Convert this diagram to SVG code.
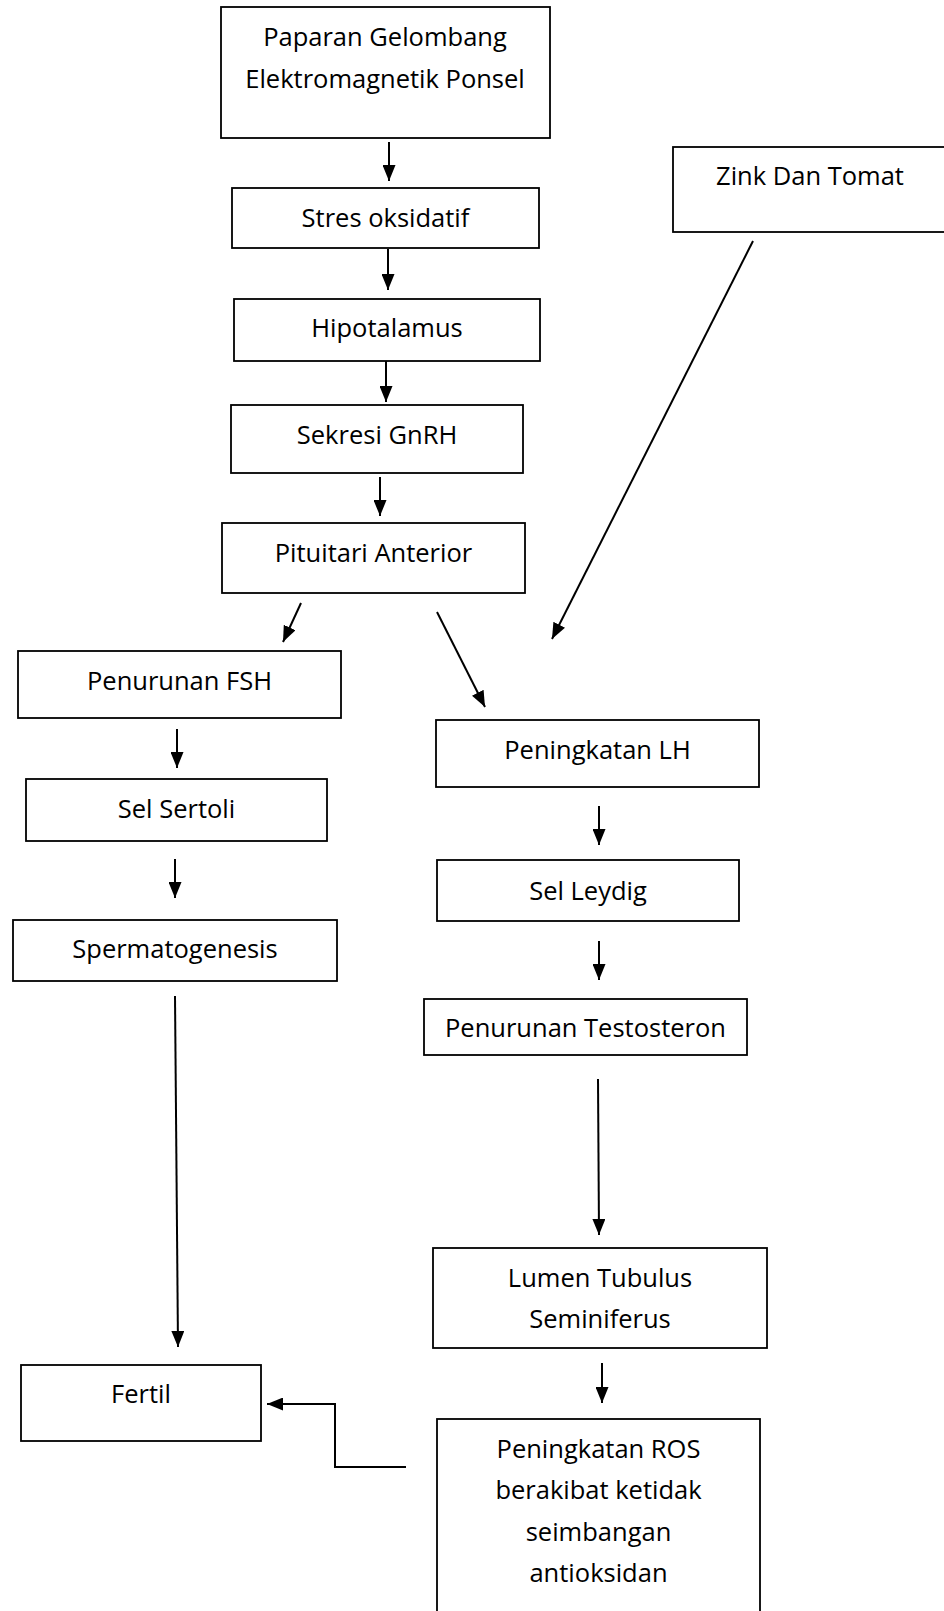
<svg xmlns="http://www.w3.org/2000/svg" width="944" height="1611" viewBox="0 0 944 1611">
<defs>
<marker id="ah" markerUnits="userSpaceOnUse" markerWidth="16" markerHeight="13" refX="16" refY="6.5" orient="auto">
<path d="M0,0 L16,6.5 L0,13 z" fill="#000"/>
</marker>
<style>
.box{fill:#fff;stroke:#000;stroke-width:1.8}
.t{font-family:"Open Sans","DejaVu Sans",sans-serif;font-size:25.5px;fill:#000;text-anchor:middle}
.c{stroke:#000;stroke-width:2;fill:none}
.a{marker-end:url(#ah)}
</style>
</defs>
<rect width="944" height="1611" fill="#fff"/>
<g id="paparan"><rect class="box" x="221" y="7" width="329" height="131"/><text class="t" x="385" y="46">Paparan Gelombang</text><text class="t" x="385" y="88">Elektromagnetik Ponsel</text></g>
<g id="stres"><rect class="box" x="232" y="188" width="307" height="60"/><text class="t" x="385.5" y="227">Stres oksidatif</text></g>
<g id="hipotalamus"><rect class="box" x="234" y="299" width="306" height="62"/><text class="t" x="387" y="337">Hipotalamus</text></g>
<g id="gnrh"><rect class="box" x="231" y="405" width="292" height="68"/><text class="t" x="377" y="444">Sekresi GnRH</text></g>
<g id="pituitari"><rect class="box" x="222" y="523" width="303" height="70"/><text class="t" x="373.5" y="562">Pituitari Anterior</text></g>
<g id="zink"><rect class="box" x="673" y="147" width="275" height="85"/><text class="t" x="810" y="185">Zink Dan Tomat</text></g>
<g id="fsh"><rect class="box" x="18" y="651" width="323" height="67"/><text class="t" x="179.5" y="690">Penurunan FSH</text></g>
<g id="sertoli"><rect class="box" x="26" y="779" width="301" height="62"/><text class="t" x="176.5" y="818">Sel Sertoli</text></g>
<g id="spermatogenesis"><rect class="box" x="13" y="920" width="324" height="61"/><text class="t" x="175" y="958">Spermatogenesis</text></g>
<g id="lh"><rect class="box" x="436" y="720" width="323" height="67"/><text class="t" x="597.5" y="759">Peningkatan LH</text></g>
<g id="leydig"><rect class="box" x="437" y="860" width="302" height="61"/><text class="t" x="588" y="900">Sel Leydig</text></g>
<g id="testosteron"><rect class="box" x="424" y="999" width="323" height="56"/><text class="t" x="585.5" y="1037">Penurunan Testosteron</text></g>
<g id="lumen"><rect class="box" x="433" y="1248" width="334" height="100"/><text class="t" x="600" y="1287">Lumen Tubulus</text><text class="t" x="600" y="1328">Seminiferus</text></g>
<g id="ros"><rect class="box" x="437" y="1419" width="323" height="200"/><text class="t" x="598.5" y="1458">Peningkatan ROS</text><text class="t" x="598.5" y="1499">berakibat ketidak</text><text class="t" x="598.5" y="1541">seimbangan</text><text class="t" x="598.5" y="1582">antioksidan</text></g>
<g id="fertil"><rect class="box" x="21" y="1365" width="240" height="76"/><text class="t" x="141" y="1403">Fertil</text></g>
<g id="connectors">
<line class="c a" x1="389" y1="142" x2="389" y2="181"/>
<line class="c a" x1="388" y1="249" x2="388" y2="290"/>
<line class="c a" x1="386" y1="361" x2="386" y2="402"/>
<line class="c a" x1="380" y1="477" x2="380" y2="516"/>
<line class="c a" x1="301" y1="603" x2="283" y2="642"/>
<line class="c a" x1="437" y1="612" x2="485" y2="707"/>
<line class="c a" x1="753" y1="241" x2="552" y2="639"/>
<line class="c a" x1="177" y1="729" x2="177" y2="768"/>
<line class="c a" x1="175" y1="859" x2="175" y2="898"/>
<line class="c a" x1="175" y1="996" x2="178" y2="1347"/>
<line class="c a" x1="599" y1="806" x2="599" y2="845"/>
<line class="c a" x1="599" y1="941" x2="599" y2="980"/>
<line class="c a" x1="598" y1="1079" x2="599" y2="1235"/>
<line class="c a" x1="602" y1="1363" x2="602" y2="1403"/>
<polyline class="c a" points="406,1467 335,1467 335,1404 267,1404"/>
</g>
</svg>
